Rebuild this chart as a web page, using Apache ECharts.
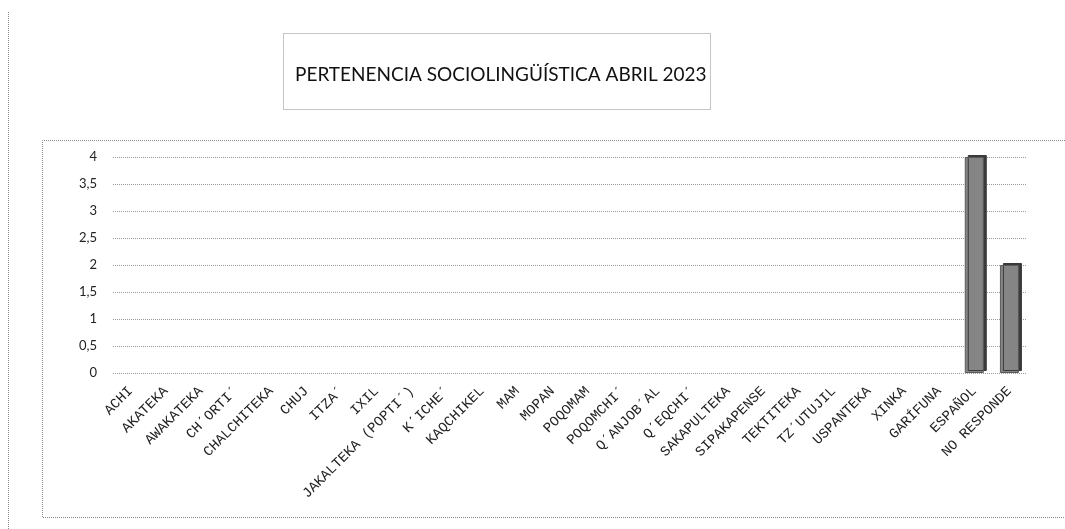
<!DOCTYPE html>
<html>
<head>
<meta charset="utf-8">
<title>Pertenencia sociolingüística</title>
<script src="https://cdn.jsdelivr.net/npm/echarts@6/dist/echarts.min.js"></script>
<style>
  html, body { margin: 0; padding: 0; background: #fff; }
  #chart { width: 1065px; height: 529px; }
</style>
</head>
<body>
<div id="chart"></div>
<script>
const titleText = 'PERTENENCIA SOCIOLINGÜÍSTICA ABRIL 2023'

const categories = [
  'ACHI', 'AKATEKA', 'AWAKATEKA', 'CH´ORTI´', 'CHALCHITEKA', 'CHUJ', 'ITZA´', 'IXIL',
  'JAKALTEKA (POPTI´)', 'K´ICHE´', 'KAQCHIKEL', 'MAM', 'MOPAN', 'POQOMAM', 'POQOMCHI´',
  'Q´ANJOB´AL', 'Q´EQCHI´', 'SAKAPULTEKA', 'SIPAKAPENSE', 'TEKTITEKA', 'TZ´UTUJIL',
  'USPANTEKA', 'XINKA', 'GARÍFUNA', 'ESPAÑOL', 'NO RESPONDE'
]

const values = [0, 0, 0, 0, 0, 0, 0, 0, 0, 0, 0, 0, 0, 0, 0, 0, 0, 0, 0, 0, 0, 0, 0, 0, 4, 2]

const yMin = 0
const yMax = 4
const yStep = 0.5

const chart = echarts.init(document.getElementById('chart'))

const dotted = { stroke: '#8a8a8a', lineWidth: 1, lineDash: [1, 1], fill: null }

// zero counts leave no visible bar, like the original
const barData = values.map(v => (v === 0 ? '-' : v))

const option = {
  backgroundColor: '#fff',
  animation: false,
  title: {
    text: titleText,
    left: 290,
    top: 60,
    textStyle: {
      fontFamily: 'Lato',
      fontSize: 19,
      fontWeight: 'normal',
      color: '#111'
    }
  },
  graphic: [
    // title frame
    { type: 'rect', shape: { x: 283.5, y: 33.5, width: 427, height: 76 }, style: dotted, silent: true },
    // outer frame, left edge
    { type: 'polyline', shape: { points: [[8.5, 12], [8.5, 529]] }, style: dotted, silent: true },
    // plot frame
    { type: 'polyline', shape: { points: [[1065, 140.5], [42.5, 140.5], [42.5, 517.5], [1065, 517.5]] }, style: dotted, silent: true }
  ],
  grid: {
    left: 113,
    right: 38,
    top: 157,
    bottom: 156
  },
  xAxis: {
    type: 'category',
    data: categories,
    axisLine: { show: false },
    axisTick: { show: false },
    axisLabel: {
      interval: 0,
      rotate: 45,
      margin: 16,
      fontFamily: 'Liberation Mono',
      fontSize: 14,
      color: '#222'
    }
  },
  yAxis: {
    type: 'value',
    min: yMin,
    max: yMax,
    interval: yStep,
    axisLine: { show: false },
    axisTick: { show: false },
    axisLabel: {
      margin: 16,
      fontFamily: 'Lato',
      fontSize: 13,
      color: '#222',
      padding: [12, 0, 0, 0],
      formatter: v => String(v).replace('.', ',')
    },
    splitLine: {
      lineStyle: { color: '#9a9a9a', type: [1, 1], width: 1 }
    }
  },
  series: [
    {
      type: 'bar',
      data: barData,
      barWidth: 19,
      itemStyle: {
        color: '#858585',
        borderColor: '#5a5a5a',
        borderWidth: 1,
        shadowColor: '#3a3a3a',
        shadowOffsetX: 3,
        shadowOffsetY: -2,
        shadowBlur: 0
      }
    }
  ]
}

chart.setOption(option)
</script>
</body>
</html>
